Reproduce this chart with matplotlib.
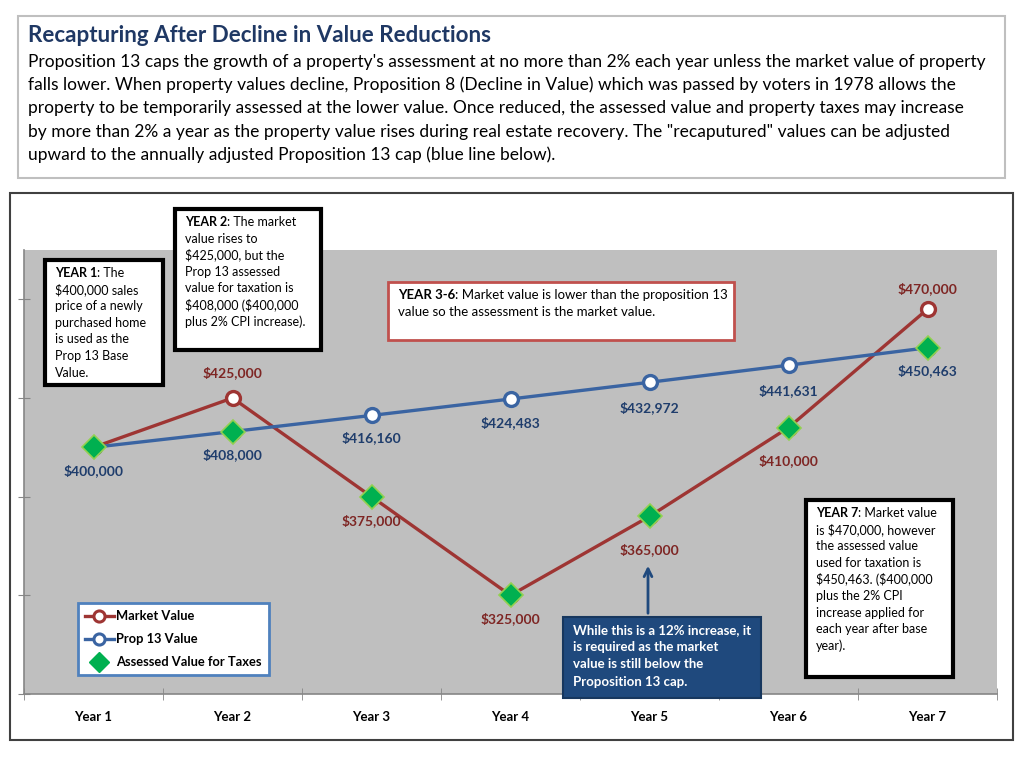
import matplotlib
matplotlib.use("Agg")
import matplotlib.pyplot as plt
from matplotlib.patches import Rectangle
from matplotlib.lines import Line2D

plt.rcParams['font.family'] = ['Lato', 'DejaVu Sans']
plt.rcParams['text.parse_math'] = False

# data
years = ["Year 1", "Year 2", "Year 3", "Year 4", "Year 5", "Year 6", "Year 7"]
market = [400000, 425000, 375000, 325000, 365000, 410000, 470000]
prop13 = [400000, 408000, 416160, 424483, 432972, 441631, 450463]
assessed = [400000, 408000, 375000, 325000, 365000, 410000, 450463]

title = "Recapturing After Decline in Value Reductions"
para = [
    "Proposition 13 caps the growth of a property's assessment at no more than 2% each year unless the market value of property",
    "falls lower. When property values decline, Proposition 8 (Decline in Value) which was passed by voters in 1978 allows the",
    "property to be temporarily assessed at the lower value. Once reduced, the assessed value and property taxes may increase",
    "by more than 2% a year as the property value rises during real estate recovery. The \"recaputured\" values can be adjusted",
    "upward to the annually adjusted Proposition 13 cap (blue line below).",
]

RED = '#9E3533'
BLUE = '#3A64A2'
GREEN = '#00B050'
RED_LBL = '#7E2624'
BLUE_LBL = '#1F3D6C'
NAVY = '#1F497D'

W, H = 1024, 763
fig = plt.figure(figsize=(W / 100, H / 100), dpi=100)

# main chart axes (pixel box: x 24..997, y 250..694)
ax = fig.add_axes([24 / W, 1 - 694 / H, (997 - 24) / W, (694 - 250) / H], zorder=1)
ax.set_facecolor('#BFBFBF')
x = list(range(len(years)))
ax.plot(x, market, color=RED, lw=2.4, marker='o', ms=10, mfc='white', mec=RED, mew=2.4, zorder=3)
ax.plot(x, prop13, color=BLUE, lw=2.4, marker='o', ms=10, mfc='white', mec=BLUE, mew=2.4, zorder=3)
ax.plot(x, assessed, ls='none', marker='D', ms=12, mfc=GREEN, mec='#92D050', mew=1.2, zorder=4)

ax.set_xlim(-0.5, 6.5)
ax.set_ylim(275000, 500000)
ax.set_yticks([275000, 325000, 375000, 425000, 475000])
ax.set_yticklabels([])
ax.set_xticks(x)
ax.set_xticklabels(years, fontweight='bold', fontsize=9.5)
ax.set_xticks([i - 0.5 for i in range(8)], minor=True)
ax.tick_params(axis='x', which='major', length=0, pad=12)
ax.tick_params(axis='x', which='minor', length=8, direction='inout', color='#868686')
ax.tick_params(axis='y', length=8, direction='inout', color='#868686')
for s in ['top', 'right']:
    ax.spines[s].set_visible(False)
for s in ['left', 'bottom']:
    ax.spines[s].set_color('#868686')
    ax.spines[s].set_linewidth(1.2)

# value labels (pixel offsets, positive = below point)
mk_off = [None, -25, 24, 23, 33, 33, -21]
pr_off = [23, 23, 22, 24, 25, 25, 23]
for i, v in enumerate(market):
    if mk_off[i] is None:
        continue
    ax.annotate(f"${v:,}", (i, v), xytext=(0, -mk_off[i]), textcoords='offset pixels',
                ha='center', va='center', color=RED_LBL, fontweight='bold', fontsize=10)
for i, v in enumerate(prop13):
    ax.annotate(f"${v:,}", (i, v), xytext=(0, -pr_off[i]), textcoords='offset pixels',
                ha='center', va='center', color=BLUE_LBL, fontweight='bold', fontsize=10)

handles = [
    Line2D([], [], color=RED, lw=2.4, marker='o', ms=8, mfc='white', mec=RED, mew=2.2),
    Line2D([], [], color=BLUE, lw=2.4, marker='o', ms=8, mfc='white', mec=BLUE, mew=2.2),
    Line2D([], [], ls='none', marker='D', ms=10, mfc=GREEN, mec=GREEN),
]
leg = ax.legend(handles, ["Market Value", "Prop 13 Value", "Assessed Value for Taxes"],
                loc='upper left', bbox_to_anchor=(78 / W, 1 - 603 / H), bbox_transform=fig.transFigure,
                borderaxespad=0, fancybox=False, frameon=True, framealpha=1,
                prop={'weight': 'bold', 'size': 9.3},
                handlelength=2.2, handletextpad=0.2, labelspacing=0.85, borderpad=0.55)
leg.get_frame().set_edgecolor('#4F81BD')
leg.get_frame().set_linewidth(2)
leg.get_frame().set_facecolor('white')

# overlay in pixel coordinates for frames and callouts
ov = fig.add_axes([0, 0, 1, 1], zorder=5)
ov.set_xlim(0, W)
ov.set_ylim(H, 0)
ov.axis('off')
ov.patch.set_alpha(0)

ov.add_patch(Rectangle((18, 16), 987, 162, fill=False, ec='#BFBFBF', lw=1.5))
ov.add_patch(Rectangle((10, 193), 1003, 547, fill=False, ec='#404040', lw=1.5))
ov.text(28, 36, title, fontsize=16.1, fontweight='bold', color='#1F3864', va='center')
for i, line in enumerate(para):
    ov.text(28, 62 + i * 23.2, line, fontsize=12.5, color='black', va='center')


def callout(x0, y0, w, h, head, lines, ec='black', lw=3, fc='white', color='black',
            size=9.0, dy=16.6, bold_all=False):
    ov.add_patch(Rectangle((x0, y0), w, h, fc=fc, ec=ec, lw=lw))
    tx, ty = x0 + 10, y0 + 13
    wt = 'bold' if bold_all else 'normal'
    for i, line in enumerate(lines):
        yy = ty + i * dy
        if i == 0 and head:
            t = ov.text(tx, yy, head, fontsize=size, fontweight='bold', color=color, va='center')
            ov.annotate(line, xy=(1, 0), xycoords=t, va='bottom', ha='left',
                        fontsize=size, fontweight=wt, color=color)
        else:
            ov.text(tx, yy, line, fontsize=size, fontweight=wt, color=color, va='center')


callout(45, 260, 118, 125, "YEAR 1", [": The", "$400,000 sales", "price of a newly",
                                      "purchased home", "is used as the", "Prop 13 Base", "Value."])
callout(175, 209, 146, 141, "YEAR 2", [": The market", "value rises to", "$425,000, but the",
                                       "Prop 13 assessed", "value for taxation is",
                                       "$408,000 ($400,000", "plus 2% CPI increase)."])
callout(388, 282, 346, 58, "YEAR 3-6", [": Market value is lower than the proposition 13",
                                        "value so the assessment is the market value."],
        ec='#C0504D', lw=2, size=9.5)
callout(806, 500, 147, 177, "YEAR 7", [": Market value", "is $470,000, however",
                                       "the assessed value", "used for taxation is",
                                       "$450,463. ($400,000", "plus the 2% CPI",
                                       "increase applied for", "each year after base", "year)."])
callout(563, 617, 198, 81, None, ["While this is a 12% increase, it", "is required as the market",
                                  "value is still below the", "Proposition 13 cap."],
        ec='#17375E', lw=1.5, fc=NAVY, color='white', bold_all=True, size=9.5, dy=17.2)
ov.annotate('', xy=(648, 563), xytext=(648, 616),
            arrowprops=dict(arrowstyle='->', lw=2, color=NAVY, mutation_scale=14))

fig.savefig("out.png", dpi=100)
